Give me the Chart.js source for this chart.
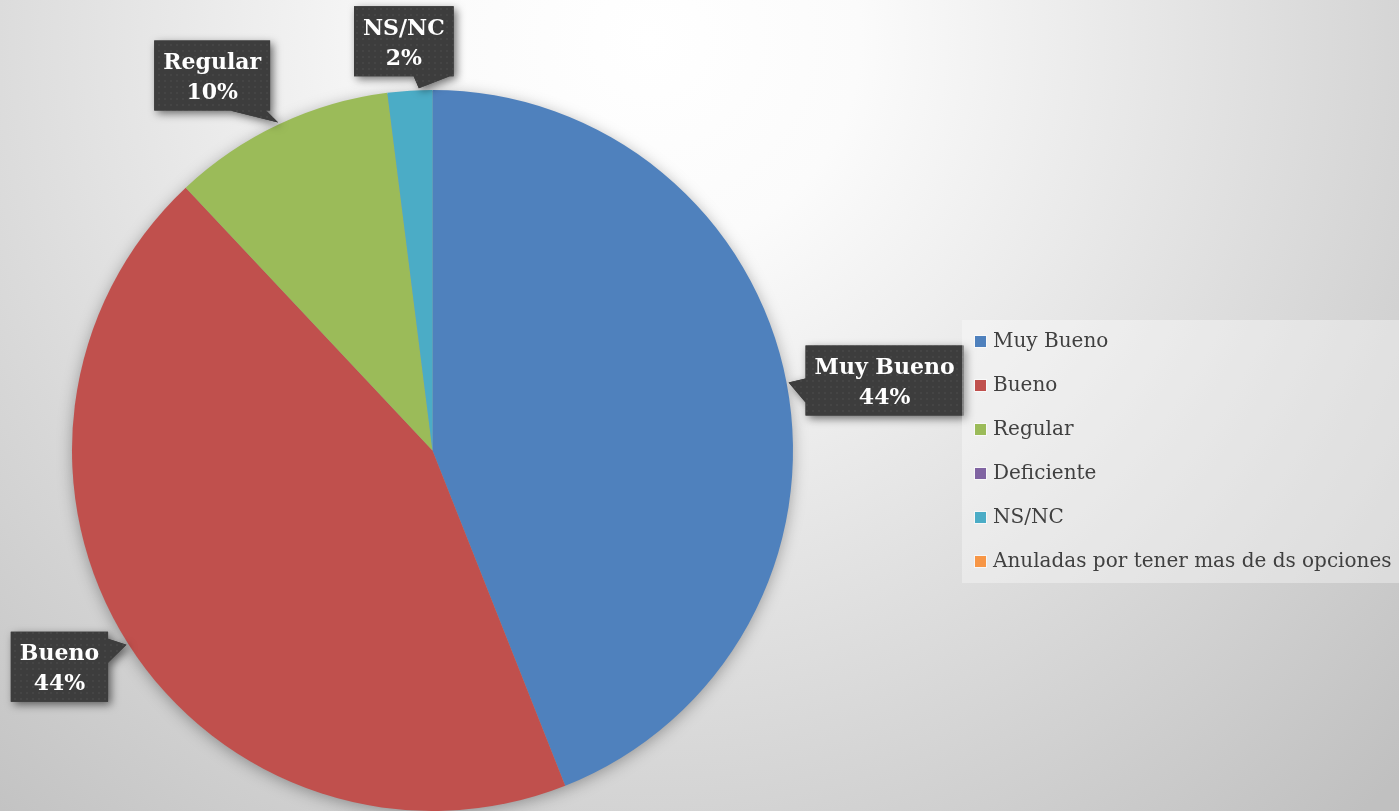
<!DOCTYPE html>
<html>
<head>
<meta charset="utf-8">
<script src="https://cdn.jsdelivr.net/npm/chart.js@4/dist/chart.umd.min.js"></script>
<style>
  html, body { margin: 0; padding: 0; overflow: hidden; background: #ffffff; }
  #wrap { width: 1399px; height: 811px; position: relative; }
  canvas { display: block; }
</style>
</head>
<body>
<div id="wrap"><canvas id="chart" width="1399" height="811"></canvas></div>
<script>
// Survey answers and their share of responses (%)
const categories = ['Muy Bueno', 'Bueno', 'Regular', 'Deficiente', 'NS/NC', 'Anuladas por tener mas de ds opciones'];
const percentages = [44, 44, 10, 0, 2, 0];
const sliceColors = ['#4f81bd', '#c0504d', '#9bbb59', '#8064a2', '#4bacc6', '#f79646'];

// Callout layout: where on the slice rim the pointer lands (fraction of the arc),
// box centre offset from that point, and which box edge carries the pointer
const calloutPlacement = {
  0: { along: 0.50, dx: 96,  dy: -2,  side: 'left' },
  1: { along: 0.50, dx: -67, dy: 22,  side: 'right' },
  2: { along: 0.50, dx: -66, dy: -47, side: 'bottom' },
  4: { along: 0.70, dx: -15, dy: -47, side: 'bottom' }
};

const SERIF = '"DejaVu Serif", "Liberation Serif", serif';

// soft radial backdrop
const backdrop = {
  id: 'backdrop',
  beforeDraw(chart) {
    const { ctx, width, height } = chart;
    const g = ctx.createRadialGradient(650, 40, 0, 650, 40, 1050);
    g.addColorStop(0, '#ffffff');
    g.addColorStop(0.2, '#fbfbfb');
    g.addColorStop(1, '#c0c0c0');
    ctx.save();
    ctx.fillStyle = g;
    ctx.fillRect(0, 0, width, height);
    ctx.restore();
  }
};

// faint drop shadow under the whole pie
const pieShadow = {
  id: 'pieShadow',
  beforeDatasetsDraw(chart) {
    const arc = chart.getDatasetMeta(0).data[0];
    if (!arc) return;
    const { ctx } = chart;
    ctx.save();
    ctx.shadowColor = 'rgba(0,0,0,0.35)';
    ctx.shadowBlur = 16;
    ctx.shadowOffsetY = 3;
    ctx.fillStyle = '#9a9a9a';
    ctx.beginPath();
    ctx.arc(arc.x, arc.y, arc.outerRadius - 1, 0, Math.PI * 2);
    ctx.fill();
    ctx.restore();
  }
};

function dotPattern(ctx) {
  const c = document.createElement('canvas');
  c.width = 6; c.height = 6;
  const p = c.getContext('2d');
  p.fillStyle = '#3d3d3d';
  p.fillRect(0, 0, 6, 6);
  p.fillStyle = '#454545';
  p.fillRect(2, 2, 2, 2);
  return ctx.createPattern(c, 'repeat');
}

function drawCallout(ctx, tip, place, lines) {
  ctx.font = 'bold 22px ' + SERIF;
  const w = Math.max(...lines.map(t => ctx.measureText(t).width)) + 18;
  const h = 70;
  const cx = tip.x + place.dx, cy = tip.y + place.dy;
  const L = cx - w / 2, R = cx + w / 2, T = cy - h / 2, B = cy + h / 2;

  ctx.beginPath();
  ctx.moveTo(L, T);
  ctx.lineTo(R, T);
  if (place.side === 'right') {
    const b0 = Math.max(T, tip.y - 6);
    ctx.lineTo(R, b0);
    ctx.lineTo(tip.x, tip.y);
    ctx.lineTo(R, b0 + 24);
  }
  ctx.lineTo(R, B);
  if (place.side === 'bottom') {
    ctx.lineTo(R - 4, B);
    ctx.lineTo(tip.x, tip.y);
    ctx.lineTo(R - 40, B);
  }
  ctx.lineTo(L, B);
  if (place.side === 'left') {
    ctx.lineTo(L, Math.min(B, tip.y + 20));
    ctx.lineTo(tip.x, tip.y);
    ctx.lineTo(L, tip.y - 4);
  }
  ctx.closePath();

  ctx.save();
  ctx.shadowColor = 'rgba(0,0,0,0.55)';
  ctx.shadowBlur = 8;
  ctx.shadowOffsetX = 3;
  ctx.shadowOffsetY = 3;
  ctx.fillStyle = '#3d3d3d';
  ctx.fill();
  ctx.restore();
  ctx.save();
  ctx.fillStyle = dotPattern(ctx);
  ctx.fill();
  ctx.restore();

  ctx.save();
  ctx.fillStyle = '#ffffff';
  ctx.textAlign = 'center';
  ctx.textBaseline = 'middle';
  ctx.font = 'bold 22px ' + SERIF;
  ctx.fillText(lines[0], cx, cy - 12);
  ctx.fillText(lines[1], cx, cy + 18);
  ctx.restore();
}

// dark speech-bubble value labels
const callouts = {
  id: 'callouts',
  afterDatasetsDraw(chart) {
    const { ctx } = chart;
    const meta = chart.getDatasetMeta(0);
    const values = chart.data.datasets[0].data;
    meta.data.forEach((arc, i) => {
      const place = calloutPlacement[i];
      if (!place || !values[i]) return;
      const a = arc.startAngle + place.along * (arc.endAngle - arc.startAngle);
      const r = arc.outerRadius + 2;
      const tip = { x: arc.x + r * Math.cos(a), y: arc.y + r * Math.sin(a) };
      drawCallout(ctx, tip, place, [chart.data.labels[i], values[i] + '%']);
    });
  }
};

// legend panel on the right
const sideLegend = {
  id: 'sideLegend',
  afterDraw(chart) {
    const { ctx } = chart;
    const box = { x: 962, y: 320, w: 440, h: 263 };
    ctx.save();
    ctx.fillStyle = 'rgba(255,255,255,0.35)';
    ctx.fillRect(box.x, box.y, box.w, box.h);
    const colors = chart.data.datasets[0].backgroundColor;
    ctx.font = '20px ' + SERIF;
    ctx.textBaseline = 'middle';
    ctx.textAlign = 'left';
    chart.data.labels.forEach((label, i) => {
      const yc = box.y + 22 + i * 44;
      ctx.fillStyle = colors[i];
      ctx.fillRect(975, yc - 6, 11, 11);
      ctx.strokeStyle = 'rgba(255,255,255,0.6)';
      ctx.lineWidth = 1;
      ctx.strokeRect(974.5, yc - 6.5, 12, 12);
      ctx.fillStyle = '#404040';
      ctx.fillText(label, 993, yc);
    });
    ctx.restore();
  }
};

new Chart(document.getElementById('chart'), {
  type: 'pie',
  data: {
    labels: categories,
    datasets: [{
      data: percentages,
      backgroundColor: sliceColors,
      borderWidth: 0
    }]
  },
  options: {
    responsive: false,
    animation: false,
    layout: { padding: { left: 72, right: 606, top: 90, bottom: 0 } },
    plugins: {
      legend: { display: false },
      tooltip: { enabled: false },
      title: { display: false }
    }
  },
  plugins: [backdrop, pieShadow, callouts, sideLegend]
});
</script>
</body>
</html>
